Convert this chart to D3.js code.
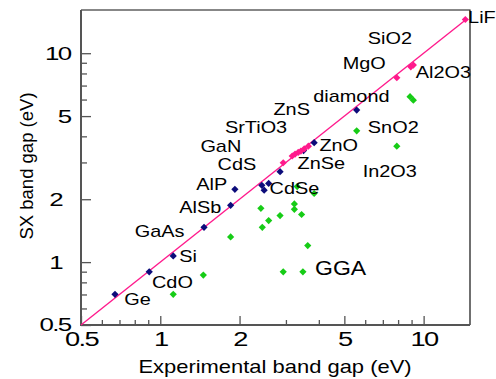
<!DOCTYPE html>
<html lang="en">
<head>
<meta charset="UTF-8">
<title>SX band gap vs experiment</title>
<style>
  body { margin: 0; background: #fff; }
  svg text { font-family: "Liberation Sans", Arial, sans-serif; fill: #000; }
</style>
</head>
<body>
<script src="https://d3js.org/d3.v7.min.js"></script>
<div id="chart"></div>
<script>
  // [experimental gap, calculated gap] in eV
  const sxNavy = [
    [0.673, 0.701], [0.908, 0.899], [1.12, 1.07], [1.466, 1.467], [1.85, 1.87],
    [1.92, 2.23], [2.43, 2.33], [2.48, 2.21], [2.58, 2.38], [2.85, 2.71],
    [3.50, 3.42], [3.84, 3.73], [5.57, 5.34]
  ]
  const sxPink = [
    [2.93, 2.99], [3.17, 3.22], [3.25, 3.29], [3.34, 3.35], [3.42, 3.40],
    [3.52, 3.48], [3.65, 3.59], [7.91, 7.63], [8.94, 8.61], [9.14, 8.77],
    [14.4, 14.5]
  ]
  const gga = [
    [1.12, 0.701], [1.457, 0.867], [1.85, 1.32], [2.41, 1.81], [2.44, 1.467],
    [2.58, 1.58], [2.85, 1.67], [3.23, 1.90], [3.23, 1.79], [3.44, 1.69],
    [3.63, 1.20], [2.93, 0.899], [3.48, 0.899], [3.84, 2.13], [3.31, 2.30],
    [5.57, 4.25], [7.91, 3.59], [8.88, 6.19], [9.14, 5.96]
  ]
  const diagonal = [0.5, 14.5]

  // material labels, anchored in data units (left end, baseline)
  const materials = [
    ["LiF", 14.75, 13.9], ["SiO2", 6.14, 11.1], ["MgO", 4.93, 8.39], ["Al2O3", 9.34, 7.57],
    ["diamond", 3.81, 5.85], ["ZnS", 2.69, 5.06], ["SrTiO3", 1.76, 4.13], ["GaN", 1.42, 3.35],
    ["CdS", 1.65, 2.76], ["AlP", 1.37, 2.21], ["AlSb", 1.18, 1.72], ["GaAs", 0.80, 1.32],
    ["Si", 1.18, 1.00], ["CdO", 0.93, 0.75], ["Ge", 0.73, 0.62], ["ZnO", 4.02, 3.41],
    ["ZnSe", 3.32, 2.78], ["CdSe", 2.60, 2.13], ["SnO2", 6.14, 4.16], ["In2O3", 5.87, 2.56]
  ]
  const seriesNote = ["GGA", 3.87, 0.87]

  const majorTicks = [0.5, 1, 2, 5, 10]
  const minorTicks = [0.6, 0.7, 0.8, 0.9, 3, 4, 6, 7, 8, 9]
  const xTitle = "Experimental band gap (eV)"
  const yTitle = "SX band gap (eV)"

  const W = 496, H = 379
  const PLOT = { left: 81, right: 470, top: 10, bottom: 325 }

  const svg = d3.select("#chart").append("svg")
    .attr("width", W).attr("height", H)

  const x = d3.scaleLog().domain([0.5, 15]).range([PLOT.left, PLOT.right])
  const y = d3.scaleLog().domain([0.5, 16.1]).range([PLOT.bottom, PLOT.top])

  // frame: thin black top/right, heavier grey axes
  svg.append("path")
    .attr("d", `M${PLOT.left},${PLOT.top} H${PLOT.right} V${PLOT.bottom}`)
    .attr("fill", "none").attr("stroke", "#111").attr("stroke-width", 1.2)

  // minor ticks
  svg.append("g")
    .attr("transform", `translate(0,${PLOT.bottom})`)
    .call(d3.axisBottom(x).tickValues(minorTicks).tickSize(-5).tickFormat(""))
    .call(g => g.select(".domain").remove())
    .selectAll("line").attr("stroke", "#555").attr("stroke-width", 1.3)
  svg.append("g")
    .attr("transform", `translate(${PLOT.left},0)`)
    .call(d3.axisLeft(y).tickValues(minorTicks).tickSize(-6).tickFormat(""))
    .call(g => g.select(".domain").remove())
    .selectAll("line").attr("stroke", "#555").attr("stroke-width", 1.3)

  // major ticks + labels
  const xAxis = svg.append("g")
    .attr("transform", `translate(0,${PLOT.bottom})`)
    .call(d3.axisBottom(x).tickValues(majorTicks).tickSize(-9).tickPadding(7).tickFormat(d3.format("")))
  xAxis.select(".domain").remove()
  xAxis.selectAll("line").attr("stroke", "#555").attr("stroke-width", 1.3)
  xAxis.selectAll("text")
    .attr("font-size", 19.5).attr("letter-spacing", -1.2)
    .attr("transform", "scale(1.4,1)")
    .style("fill", "#000")

  const yNudge = { 1: -8.5, 2: -8.5 }
  const yAxis = svg.append("g")
    .attr("transform", `translate(${PLOT.left},0)`)
    .call(d3.axisLeft(y).tickValues(majorTicks).tickSize(-10).tickFormat(d3.format("")))
  yAxis.select(".domain").remove()
  yAxis.selectAll("line").attr("stroke", "#555").attr("stroke-width", 1.3)
  yAxis.selectAll("text")
    .attr("x", 0)
    .attr("font-size", 18.5).attr("letter-spacing", -1.2)
    .attr("transform", d => `translate(${-10.5 + (yNudge[d] || 0)},0) scale(1.4,1)`)
    .style("fill", "#000")

  // axis lines
  svg.append("path")
    .attr("d", `M${PLOT.left},${PLOT.top} V${PLOT.bottom} H${PLOT.right}`)
    .attr("fill", "none").attr("stroke", "#555").attr("stroke-width", 2)

  // y = x reference line
  svg.append("path")
    .datum(diagonal)
    .attr("d", d3.line().x(d => x(d)).y(d => y(d)))
    .attr("fill", "none").attr("stroke", "#ff1a8c").attr("stroke-width", 1.4)

  const diamond = d3.symbol(d3.symbolSquare, 26)
  const drawSeries = (data, color) => {
    svg.append("g").selectAll("path")
      .data(data)
      .join("path")
      .attr("d", diamond)
      .attr("transform", d => `translate(${x(d[0])},${y(d[1])}) rotate(45)`)
      .attr("fill", color)
  }
  drawSeries(gga, "#16cc16")
  drawSeries(sxNavy, "#0c0c7a")
  drawSeries(sxPink, "#ff1a8c")

  // labels
  svg.append("g").selectAll("text")
    .data(materials)
    .join("text")
    .attr("transform", d => `translate(${x(d[1])},${y(d[2])}) scale(1.17,1)`)
    .attr("font-size", 17)
    .text(d => d[0])

  svg.append("text")
    .attr("transform", `translate(${x(seriesNote[1])},${y(seriesNote[2])}) scale(1.15,1)`)
    .attr("font-size", 20)
    .text(seriesNote[0])

  // axis titles
  svg.append("text")
    .attr("transform", `translate(275,372.5) scale(1.22,1)`)
    .attr("text-anchor", "middle")
    .attr("font-size", 18)
    .text(xTitle)

  svg.append("text")
    .attr("transform", `translate(32.5,166) rotate(-90)`)
    .attr("text-anchor", "middle")
    .attr("font-size", 18.5)
    .text(yTitle)
</script>
</body>
</html>
